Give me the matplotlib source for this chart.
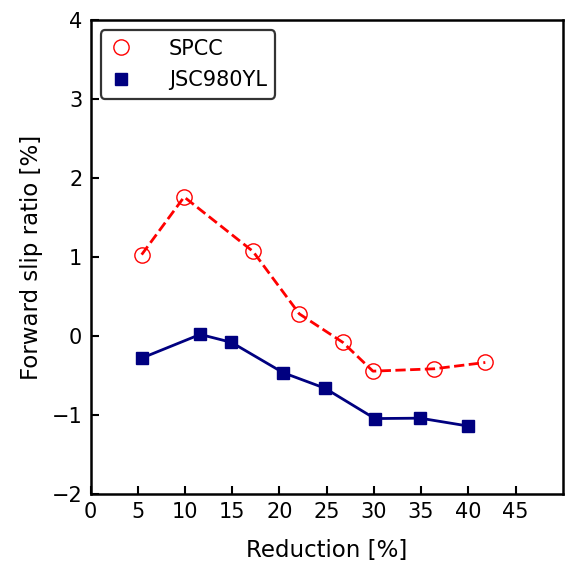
import matplotlib
matplotlib.use("Agg")
import matplotlib.pyplot as plt

spcc_x = [5.4, 9.9, 17.2, 22.1, 26.7, 29.9, 36.4, 41.8]
spcc_y = [1.03, 1.76, 1.07, 0.28, -0.08, -0.445, -0.415, -0.335]
jsc_x = [5.4, 11.6, 14.9, 20.4, 24.8, 30.1, 34.9, 40.0]
jsc_y = [-0.28, 0.02, -0.08, -0.465, -0.66, -1.045, -1.04, -1.14]
xticks = [0, 5, 10, 15, 20, 25, 30, 35, 40, 45]
yticks = [-2, -1, 0, 1, 2, 3, 4]

fig = plt.figure(figsize=(5.66, 5.61), dpi=100)
ax = fig.add_axes([0.1602, 0.1194, 0.834, 0.845])

ax.plot(spcc_x, spcc_y, '--', color='red', lw=2, zorder=2)
ax.plot(spcc_x, spcc_y, 'o', mfc='none', mec='red', ms=11, mew=1.0, ls='none',
        label='SPCC', zorder=3)
ax.plot(jsc_x, jsc_y, '-', color='navy', lw=2, zorder=2)
ax.plot(jsc_x, jsc_y, 's', color='navy', ms=8.5, ls='none', label='JSC980YL', zorder=3)

ax.set_xlim(0, 50)
ax.set_ylim(-2, 4)
ax.set_xticks(xticks)
ax.set_yticks(yticks)
ax.tick_params(direction='in', length=6, width=1.5, labelsize=15, pad=6)
for s in ax.spines.values():
    s.set_linewidth(1.8)
ax.set_xlabel('Reduction [%]', fontsize=16.5, labelpad=12)
ax.set_ylabel('Forward slip ratio [%]', fontsize=16.5, labelpad=6)
leg = ax.legend(loc='upper left', fontsize=15, frameon=True, fancybox=True,
                edgecolor='#333333', borderpad=0.4, handlelength=1.1,
                handletextpad=1.75, labelspacing=0.55)
leg.get_frame().set_linewidth(1.6)
leg.get_frame().set_alpha(1)

fig.savefig('out.png', dpi=100)
